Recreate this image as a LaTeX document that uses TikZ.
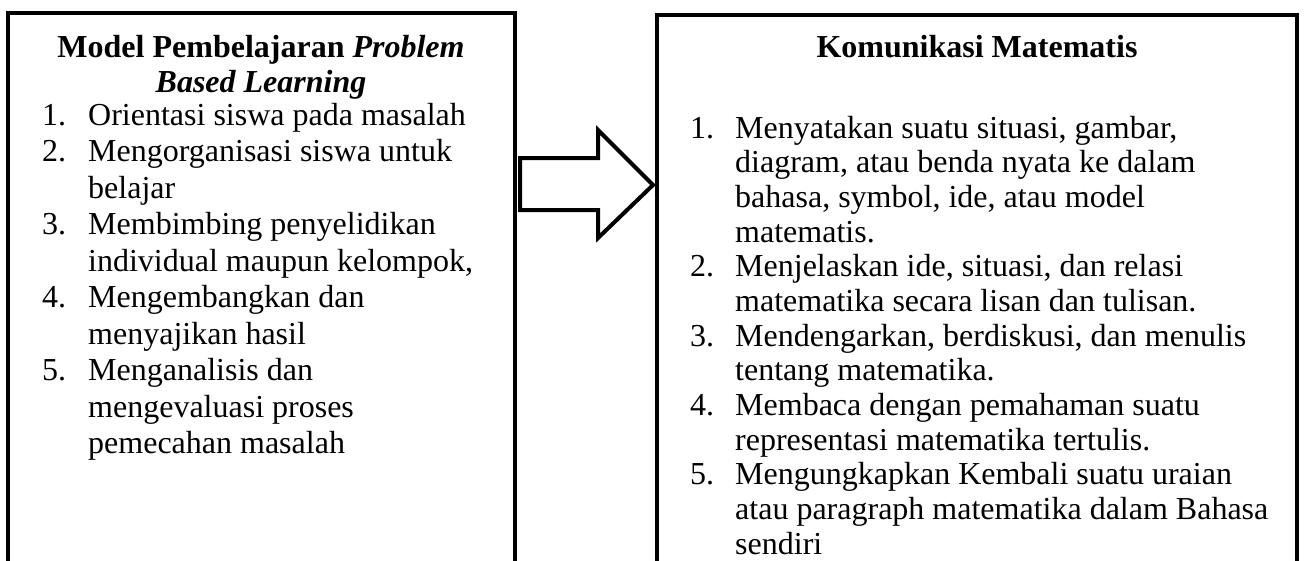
\documentclass[tikz,border=0pt]{standalone}
\usepackage{fontspec}
\setmainfont{Liberation Serif}
\begin{document}
\begin{tikzpicture}[x=1pt,y=-1pt]
  \tikzset{txt/.style={anchor=base west, inner sep=0pt, font=\fontsize{32}{36}\selectfont},
           ttl/.style={anchor=base, inner sep=0pt, font=\fontsize{32}{36}\selectfont\bfseries},
           frame/.style={line width=4}}
  \useasboundingbox (0,0) rectangle (1308,560);
  \clip (0,0) rectangle (1308,560);
  % the two boxes, open at the bottom
  \draw[frame] (8,580) -- (8,13) -- (515,13) -- (515,580);
  \draw[frame] (657,580) -- (657,15) -- (1297,15) -- (1297,580);
  % block arrow
  \draw[frame, line join=miter] (520,158) -- (598,158) -- (598,130) -- (653,185)
        -- (598,238) -- (598,210) -- (520,210) -- cycle;
  % left box
  \node[ttl] (ttlA) at (261,57) {Model Pembelajaran \textit{Problem}};
  \node[ttl] (ttlB) at (261,92) {\textit{Based Learning}};
  \foreach \n/\y in {1/125,2/161.5,3/234.5,4/307.5,5/380.5}
    \node[txt] (numL\n) at (42,\y) {\n.};
  \foreach \t [count=\i, evaluate=\i as \y using 125+36.5*(\i-1)] in
    {{Orientasi siswa pada masalah},{Mengorganisasi siswa untuk},{belajar},
     {Membimbing penyelidikan},{individual maupun kelompok,},{Mengembangkan dan},
     {menyajikan hasil},{Menganalisis dan},{mengevaluasi proses},{pemecahan masalah}}
    \node[txt] (lineL\i) at (88,\y) {\t};
  % right box
  \node[ttl] (ttlC) at (977,57) {Komunikasi Matematis};
  \foreach \n/\k in {1/0,2/4,3/6,4/8,5/10}
    \node[txt] (numR\n) at (690,138+34.67*\k) {\n.};
  \foreach \t [count=\i, evaluate=\i as \y using 138+34.67*(\i-1)] in
    {{Menyatakan suatu situasi, gambar,},{diagram, atau benda nyata ke dalam},
     {bahasa, symbol, ide, atau model},{matematis.},{Menjelaskan ide, situasi, dan relasi},
     {matematika secara lisan dan tulisan.},{Mendengarkan, berdiskusi, dan menulis},
     {tentang matematika.},{Membaca dengan pemahaman suatu},
     {representasi matematika tertulis.},{Mengungkapkan Kembali suatu uraian},
     {atau paragraph matematika dalam Bahasa},{sendiri}}
    \node[txt] (lineR\i) at (735,\y) {\t};
\end{tikzpicture}
\end{document}
